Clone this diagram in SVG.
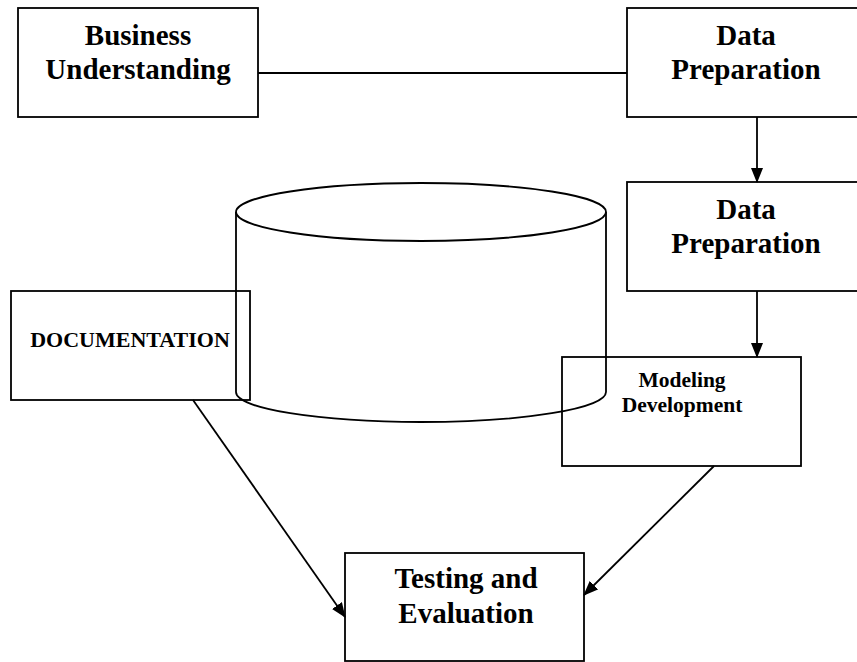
<svg xmlns="http://www.w3.org/2000/svg" width="857" height="662" viewBox="0 0 857 662">
<style>
.box{fill:none;stroke:#000;stroke-width:1.8}
.ln{fill:none;stroke:#000;stroke-width:1.8}
.t{font-family:"Liberation Serif","Times New Roman",serif;font-weight:bold;fill:#000;text-anchor:middle}
.big{font-size:29px}
.doc{font-size:22px}
.small{font-size:21.5px}
</style>
<defs>
<marker id="ah" markerWidth="15" markerHeight="12" refX="14" refY="6" orient="auto" markerUnits="userSpaceOnUse">
<path d="M0,0 L15,6 L0,12 Z" fill="#000"/>
</marker>
</defs>
<rect width="857" height="662" fill="#fff"/>
<g id="database">
<path class="ln" d="M236,212 L236,392 A185,30 0 0,0 606,392 L606,212"/>
<ellipse class="ln" cx="421" cy="212" rx="185" ry="29"/>
</g>
<g id="business-understanding">
<rect class="box" x="18" y="8" width="240" height="109"/>
<text class="t big" x="138" y="45">Business</text>
<text class="t big" x="138" y="79">Understanding</text>
</g>
<g id="data-preparation-1">
<rect class="box" x="627" y="8" width="240" height="109"/>
<text class="t big" x="746" y="45">Data</text>
<text class="t big" x="746" y="79">Preparation</text>
</g>
<g id="data-preparation-2">
<rect class="box" x="627" y="182" width="240" height="109"/>
<text class="t big" x="746" y="219">Data</text>
<text class="t big" x="746" y="253">Preparation</text>
</g>
<g id="documentation">
<rect class="box" x="11" y="291" width="239" height="109"/>
<text class="t doc" x="130" y="347">DOCUMENTATION</text>
</g>
<g id="modeling-development">
<rect class="box" x="562" y="357" width="239" height="109"/>
<text class="t small" x="682" y="387">Modeling</text>
<text class="t small" x="682" y="412">Development</text>
</g>
<g id="testing-evaluation">
<rect class="box" x="345" y="553" width="239" height="108"/>
<text class="t big" x="466" y="588">Testing and</text>
<text class="t big" x="466" y="623">Evaluation</text>
</g>
<g id="connectors">
<line class="ln" x1="258" y1="73" x2="627" y2="73"/>
<line class="ln" x1="757" y1="117" x2="757" y2="182" marker-end="url(#ah)"/>
<line class="ln" x1="757" y1="291" x2="757" y2="357" marker-end="url(#ah)"/>
<line class="ln" x1="193" y1="400" x2="345" y2="617" marker-end="url(#ah)"/>
<line class="ln" x1="714" y1="466" x2="584" y2="595" marker-end="url(#ah)"/>
</g>
</svg>
